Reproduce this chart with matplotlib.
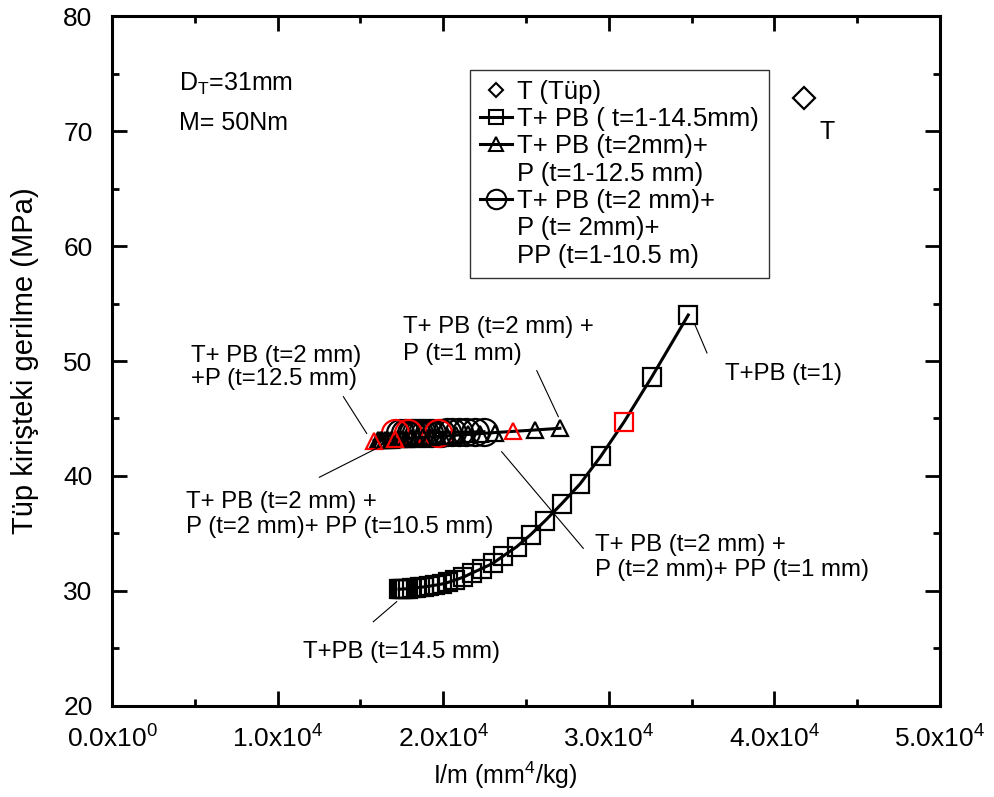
import matplotlib
matplotlib.use('Agg')
import matplotlib.pyplot as plt
from matplotlib.lines import Line2D
from matplotlib.ticker import MultipleLocator, FixedLocator, FixedFormatter

plt.rcParams['font.family'] = ['Liberation Sans', 'DejaVu Sans']
plt.rcParams['mathtext.default'] = 'regular'

# I/m (mm^4/kg) and stress (MPa) for each configuration
tube_x = [41800]
tube_y = [72.85]

# T + PB, t = 1 ... 14.5 mm
pb_x = [34800, 32590, 30920, 29510, 28260, 27160, 26150, 25280, 24440, 23630,
        22990, 22330, 21720, 21210, 20710, 20300, 19900, 19500, 19150, 18850,
        18580, 18330, 18100, 17900, 17720, 17570, 17440, 17330]
pb_y = [54.0, 48.6, 44.7, 41.7, 39.3, 37.6, 36.1, 34.9, 33.85, 33.05,
        32.4, 31.95, 31.55, 31.2, 30.95, 30.75, 30.6, 30.5, 30.42, 30.36,
        30.31, 30.27, 30.24, 30.21, 30.19, 30.17, 30.16, 30.15]
pb_red = [2]

# T + PB (t=2) + P, t = 1 ... 12.5 mm
p_x = [27050, 25540, 24230, 23150, 22250, 21480, 20800, 20200, 19680, 19220,
       18800, 18420, 18080, 17780, 17500, 17250, 17080, 16820, 16640, 16480,
       16330, 16190, 16060, 15820]
p_y = [44.15, 44.0, 43.88, 43.78, 43.69, 43.61, 43.55, 43.49, 43.44, 43.4,
       43.36, 43.32, 43.29, 43.26, 43.23, 43.21, 43.19, 43.17, 43.15, 43.13,
       43.12, 43.11, 43.09, 43.07]
p_red = [2, 16, 23]

# T + PB (t=2) + P (t=2) + PP, t = 1 ... 10.5 mm
pp_x = [22460, 21900, 21400, 20950, 20550, 20200, 19880, 19690, 19350, 19120,
        18900, 18700, 18520, 18350, 18200, 18050, 17870, 17700, 17400, 17090]
pp_y = [43.85, 43.83, 43.82, 43.81, 43.8, 43.79, 43.78, 43.77, 43.76, 43.76,
        43.75, 43.74, 43.74, 43.74, 43.73, 43.73, 43.72, 43.72, 43.71, 43.7]
pp_red = [7, 16, 19]

x_ticks = [0, 10000, 20000, 30000, 40000, 50000]
x_tick_labels = [r'0.0x10$^{0}$', r'1.0x10$^{4}$', r'2.0x10$^{4}$',
                 r'3.0x10$^{4}$', r'4.0x10$^{4}$', r'5.0x10$^{4}$']

legend_labels = ['T (Tüp)', 'T+ PB ( t=1-14.5mm)', 'T+ PB (t=2mm)+',
                 'P (t=1-12.5 mm)', 'T+ PB (t=2 mm)+', 'P (t= 2mm)+',
                 'PP (t=1-10.5 m)']

# (lines, x, y of first line, line step, leader start, leader end)
notes = [
    (['T+ PB (t=2 mm)', '+P (t=12.5 mm)'], 4770, 50.45, 2.0, (13970, 46.9), (15380, 43.7)),
    (['T+ PB (t=2 mm) +', 'P (t=1 mm)'], 17570, 53.0, 2.4, (25650, 49.16), (26950, 45.16)),
    (['T+PB (t=1)'], 37020, 48.87, 0, (35210, 53.13), (35930, 50.7)),
    (['T+ PB (t=2 mm) +', 'P (t=2 mm)+ PP (t=10.5 mm)'], 4470, 37.77, 2.2, (12520, 39.89), (16180, 42.55)),
    (['T+ PB (t=2 mm) +', 'P (t=2 mm)+ PP (t=1 mm)'], 29170, 34.0, 2.2, (23530, 42.11), (28460, 33.71)),
    (['T+PB (t=14.5 mm)'], 11530, 24.7, 0, (15780, 27.33), (17190, 29.07)),
]


def hollow(ax, xs, ys, idx, color, **kw):
    px = [xs[i] for i in idx]
    py = [ys[i] for i in idx]
    ax.plot(px, py, ls='none', mfc='none', mec=color, **kw)


fig = plt.figure(figsize=(9.95, 7.97), dpi=100)
ax = fig.add_axes([0.1126, 0.1142, 0.8321, 0.8657])

mew = 1.6
# circles first, triangles and squares on top
black_pp = [i for i in range(len(pp_x)) if i not in pp_red]
ax.plot(pp_x, pp_y, color='k', lw=2.2)
hollow(ax, pp_x, pp_y, black_pp, 'k', marker='o', ms=19.5, mew=mew)
hollow(ax, pp_x, pp_y, pp_red, 'red', marker='o', ms=19.5, mew=mew)

black_p = [i for i in range(len(p_x)) if i not in p_red]
ax.plot(p_x, p_y, color='k', lw=2.2)
hollow(ax, p_x, p_y, black_p, 'k', marker='^', ms=12, mew=mew)
hollow(ax, p_x, p_y, p_red, 'red', marker='^', ms=12, mew=mew)

black_pb = [i for i in range(len(pb_x)) if i not in pb_red]
ax.plot(pb_x, pb_y, color='k', lw=2.2)
hollow(ax, pb_x, pb_y, black_pb, 'k', marker='s', ms=12.5, mew=mew)
hollow(ax, pb_x, pb_y, pb_red, 'red', marker='s', ms=12.5, mew=mew)

ax.plot(tube_x, tube_y, ls='none', marker='D', ms=11, mfc='none', mec='k', mew=mew)
ax.text(43160, 69.94, 'T', fontsize=18, ha='center', va='center')

for lines, tx, ty, step, p0, p1 in notes:
    for k, s in enumerate(lines):
        ax.text(tx, ty - k * step, s, fontsize=17.3, ha='left', va='center')
    ax.plot([p0[0], p1[0]], [p0[1], p1[1]], color='k', lw=0.8)

ax.text(4050, 73.48, 'D$_{T}$=31mm', fontsize=18, va='baseline')
ax.text(4050, 70.09, 'M= 50Nm', fontsize=18, va='baseline')

ax.set_xlim(0, 50000)
ax.set_ylim(20, 80)
ax.xaxis.set_major_locator(FixedLocator(x_ticks))
ax.xaxis.set_major_formatter(FixedFormatter(x_tick_labels))
ax.xaxis.set_minor_locator(MultipleLocator(5000))
ax.yaxis.set_major_locator(MultipleLocator(10))
ax.yaxis.set_minor_locator(MultipleLocator(5))
ax.tick_params(which='both', direction='in', top=True, right=True, width=2)
ax.tick_params(which='major', length=11, labelsize=19, pad=14)
ax.tick_params(which='minor', length=5)
for sp in ax.spines.values():
    sp.set_linewidth(2.2)

ax.set_xlabel('I/m (mm$^{4}$/kg)', fontsize=18)
ax.xaxis.set_label_coords(0.475, -0.078)
ax.set_ylabel('Tüp kirişteki gerilme (MPa)', fontsize=21)
ax.yaxis.set_label_coords(-0.088, 0.5)

blank = Line2D([], [], ls='none')
handles = [
    Line2D([], [], ls='none', marker='D', ms=7, mfc='none', mec='k', mew=1.5),
    Line2D([], [], color='k', lw=2.2, marker='s', ms=9.5, mfc='none', mec='k', mew=1.5),
    Line2D([], [], color='k', lw=2.2, marker='^', ms=9.5, mfc='none', mec='k', mew=1.5),
    blank,
    Line2D([], [], color='k', lw=2.2, marker='o', ms=14, mfc='none', mec='k', mew=1.5),
    blank,
    blank,
]
leg = ax.legend(handles, legend_labels, loc='upper left',
                bbox_to_anchor=(0.4724, 0.9122), bbox_transform=fig.transFigure,
                fontsize=18.5, labelspacing=0.13, handlelength=1.25,
                handletextpad=0.2, borderpad=0.38, borderaxespad=0,
                fancybox=False, framealpha=1)
leg.get_frame().set_edgecolor('#333333')
leg.get_frame().set_linewidth(1.0)

fig.savefig('out.png', dpi=100)
